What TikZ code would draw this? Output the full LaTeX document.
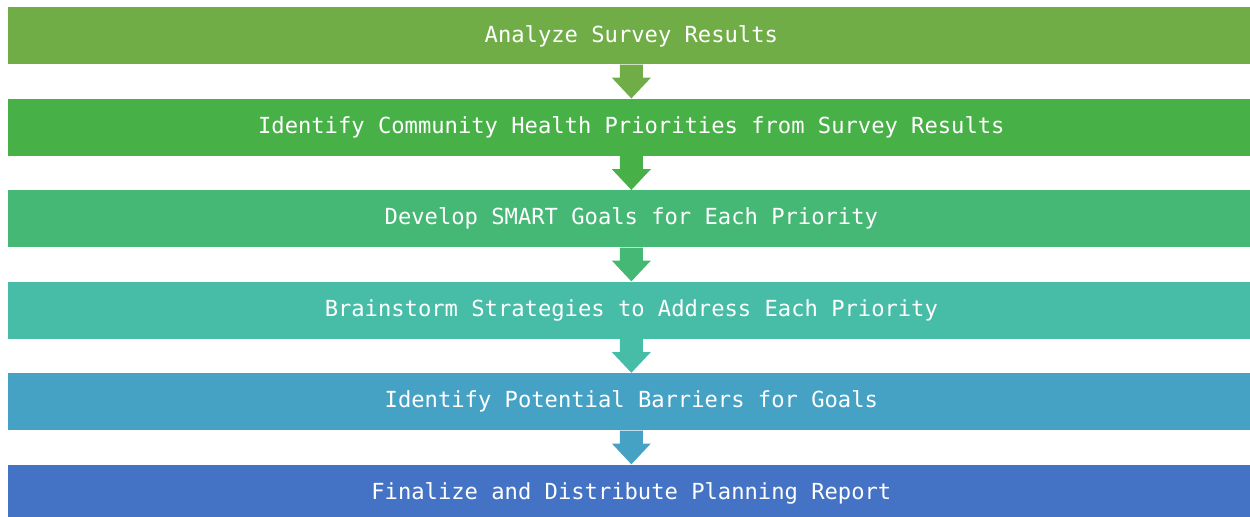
\documentclass[tikz,border=0pt]{standalone}
\usepackage{fontspec}
\setmonofont{DejaVu Sans Mono}
\usetikzlibrary{positioning,calc}
\definecolor{StepOne}{HTML}{70AD47}
\definecolor{StepTwo}{HTML}{47B148}
\definecolor{StepThree}{HTML}{46B875}
\definecolor{StepFour}{HTML}{47BDA8}
\definecolor{StepFive}{HTML}{45A2C4}
\definecolor{StepSix}{HTML}{4472C4}
\tikzset{
  stepbox/.style={fill=#1,minimum width=24.92cm,minimum height=1.14cm,inner sep=0pt,text=white,font=\ttfamily\fontsize{12.6}{15}\selectfont}
}
% block arrow hanging from one box down to the next
\newcommand{\steparrow}[3]{%
  \fill[#3] ($(#1.south)+(-0.23,0)$) -- ($(#1.south)+(0.23,0)$) -- ($(#1.south)+(0.23,-0.26)$)
    -- ($(#1.south)+(0.39,-0.26)$) -- (#2.north) -- ($(#1.south)+(-0.39,-0.26)$)
    -- ($(#1.south)+(-0.23,-0.26)$) -- cycle;
}

\begin{document}
\begin{tikzpicture}[node distance=0.675cm]
  \useasboundingbox (0,0) rectangle (25,-10.32);
  \node[stepbox=StepOne,below right] (survey) at (0.16,-0.14) {Analyze Survey Results};
  \node[stepbox=StepTwo,below=of survey] (priorities) {Identify Community Health Priorities from Survey Results};
  \node[stepbox=StepThree,below=of priorities] (goals) {Develop SMART Goals for Each Priority};
  \node[stepbox=StepFour,below=of goals] (strategies) {Brainstorm Strategies to Address Each Priority};
  \node[stepbox=StepFive,below=of strategies] (barriers) {Identify Potential Barriers for Goals};
  \node[stepbox=StepSix,below=of barriers] (report) {Finalize and Distribute Planning Report};
  \steparrow{survey}{priorities}{StepOne}
  \steparrow{priorities}{goals}{StepTwo}
  \steparrow{goals}{strategies}{StepThree}
  \steparrow{strategies}{barriers}{StepFour}
  \steparrow{barriers}{report}{StepFive}
\end{tikzpicture}
\end{document}
